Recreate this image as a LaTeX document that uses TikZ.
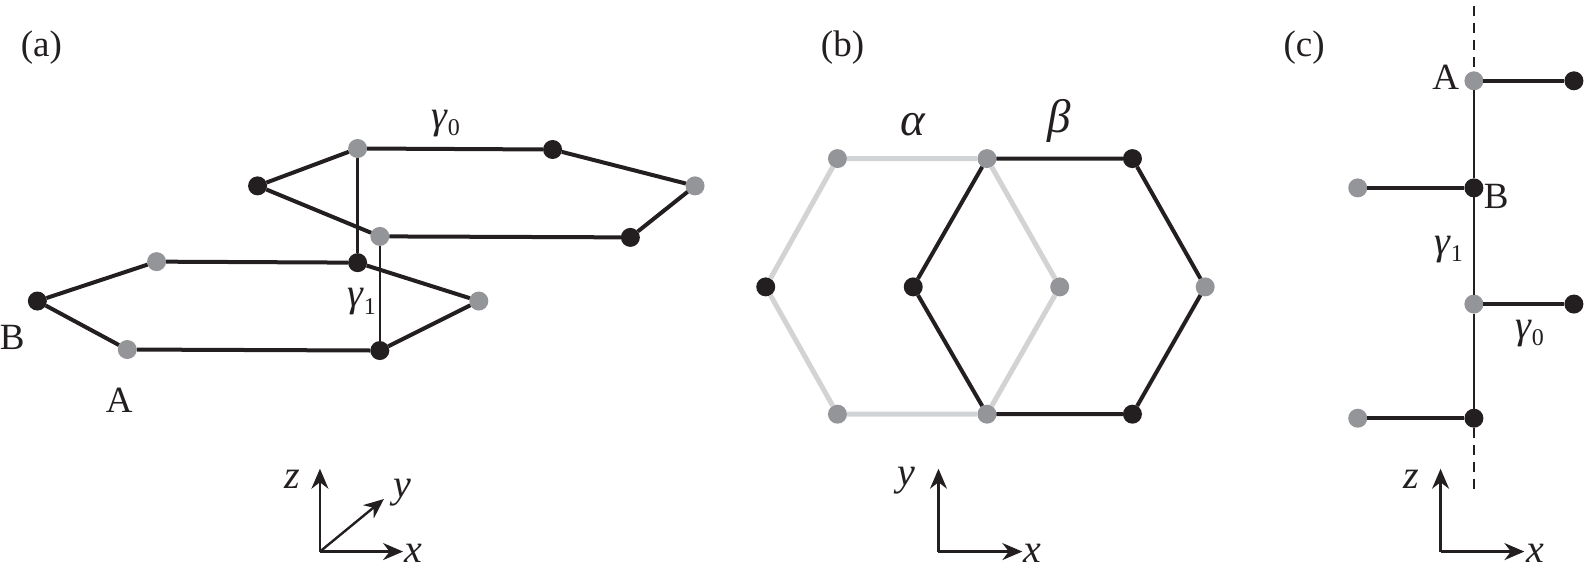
\documentclass[tikz,border=0pt]{standalone}
\usepackage{fontspec}
\setmainfont{Liberation Serif}
\usetikzlibrary{arrows.meta, positioning}
\definecolor{inkcolor}{RGB}{35,31,32}
\definecolor{sitecolor}{RGB}{147,149,152}
\definecolor{palecolor}{RGB}{209,211,212}
\newcommand{\gammasub}[1]{{\fontsize{40}{44}\selectfont\textit{γ}}\raisebox{-0.42ex}{\fontsize{24}{28}\selectfont #1}}

\begin{document}
\begin{tikzpicture}[
    x=1.0102pt,
    y=-1.0102pt,
    sitea/.style={circle, fill=sitecolor, inner sep=0pt, outer sep=0pt, minimum size=19pt},
    siteb/.style={circle, fill=inkcolor, inner sep=0pt, outer sep=0pt, minimum size=19pt},
    bond/.style={draw=inkcolor, line width=4pt},
    palebond/.style={draw=palecolor, line width=5pt},
    hop/.style={draw=inkcolor, line width=2.4pt},
    axis/.style={draw=inkcolor, line width=2.4pt, -{Stealth[length=20pt, width=17pt]}},
    label/.style={font=\fontsize{37}{42}\selectfont, text=inkcolor, inner sep=0pt},
    axislabel/.style={font=\fontsize{40}{44}\selectfont\itshape, text=inkcolor, inner sep=0pt}
]
    \useasboundingbox (0,0) rectangle (1568,566.2);

    % Panel labels
    \node[label] (laba) at (41,47) {(a)};
    \node[label] (labb) at (834,47) {(b)};
    \node[label] (labc) at (1291,47) {(c)};

    % (a) upper layer
    \node[siteb] (ua) at (255,184) {};
    \node[sitea] (ub) at (354,147) {};
    \node[siteb] (uc) at (547,148) {};
    \node[sitea] (ud) at (688,184) {};
    \node[siteb] (ue) at (624,235) {};
    \node[sitea] (uf) at (376,234) {};

    % (a) lower layer
    \node[siteb] (la) at (37,298) {};
    \node[sitea] (lb) at (155,259) {};
    \node[siteb] (lc) at (354,260) {};
    \node[sitea] (ld) at (474,298) {};
    \node[siteb] (le) at (376,347) {};
    \node[sitea] (lf) at (126,346) {};

    \draw[bond] (ua) -- (ub) -- (uc) -- (ud) -- (ue) -- (uf) -- (ua);
    \draw[bond] (la) -- (lb) -- (lc) -- (ld) -- (le) -- (lf) -- (la);
    \draw[hop] (ub) -- (lc);
    \draw[hop] (uf) -- (le);

    \node[label] (gza) at (441,122) {\gammasub{0}};
    \node[label] (goa) at (358,299) {\gammasub{1}};
    \node[label] (siteBa) at (12,334) {B};
    \node[label] (siteAa) at (118,396) {A};

    % (b) two sublattices
    \node[siteb] (pa) at (758,284) {};
    \node[sitea] (pb) at (829,157) {};
    \node[sitea] (pc) at (977,157) {};
    \node[sitea] (pd) at (1049,284) {};
    \node[sitea] (pe) at (977,410) {};
    \node[sitea] (pf) at (829,410) {};
    \node[siteb] (qa) at (904,284) {};
    \node[siteb] (qc) at (1121,157) {};
    \node[sitea] (qd) at (1193,284) {};
    \node[siteb] (qe) at (1121,410) {};

    \draw[palebond] (pa) -- (pb) -- (pc) -- (pd) -- (pe) -- (pf) -- (pa);
    \draw[bond] (qa) -- (pc) -- (qc) -- (qd) -- (qe) -- (pe) -- (qa);

    \node[label, font=\fontsize{47}{50}\selectfont\itshape] (alpha) at (904,123) {α};
    \node[label, font=\fontsize{47}{50}\selectfont\itshape] (beta) at (1048,120) {β};

    % (c) side view
    \coordinate (top) at (1459,6);
    \coordinate (bottom) at (1459,490);
    \node[sitea] (sa) at (1459,80) {};
    \node[siteb] (sb) at (1459,186) {};
    \node[sitea] (sc) at (1459,301) {};
    \node[siteb] (sd) at (1459,414) {};
    \node[siteb] (ta) at (1558,80) {};
    \node[sitea] (tb) at (1344,186) {};
    \node[siteb] (tc) at (1558,301) {};
    \node[sitea] (td) at (1344,414) {};

    \draw[hop] (sa) -- (sb) -- (sc) -- (sd);
    \draw[hop, dashed, dash pattern=on 10pt off 7pt] (top) -- (sa);
    \draw[hop, dashed, dash pattern=on 10pt off 7pt] (sd) -- (bottom);
    \draw[bond] (sa) -- (ta);
    \draw[bond] (tb) -- (sb);
    \draw[bond] (sc) -- (tc);
    \draw[bond] (td) -- (sd);

    \node[label] (siteAc) at (1431,77) {A};
    \node[label] (siteBc) at (1481,194) {B};
    \node[label] (goc) at (1434,247) {\gammasub{1}};
    \node[label] (gzc) at (1514,330) {\gammasub{0}};

    % Axes
    \coordinate (oa) at (316.7,546);
    \coordinate (za) at (316.7,464);
    \coordinate (xa) at (399,546);
    \coordinate (ya) at (380,494);
    \draw[axis] (oa) -- (za);
    \draw[axis] (oa) -- (xa);
    \draw[axis] (oa) -- (ya);
    \node[axislabel] (lza) at (289,474) {z};
    \node[axislabel] (lya) at (398,488) {y};
    \node[axislabel] (lxa) at (409,548) {x};

    \coordinate (ob) at (929,546);
    \coordinate (yb) at (929,464);
    \coordinate (xb) at (1012,546);
    \draw[axis] (ob) -- (yb);
    \draw[axis] (ob) -- (xb);
    \node[axislabel] (lyb) at (897,476) {y};
    \node[axislabel] (lxb) at (1022,548) {x};

    \coordinate (oc) at (1426,546);
    \coordinate (zc) at (1426,464);
    \coordinate (xc) at (1509,546);
    \draw[axis] (oc) -- (zc);
    \draw[axis] (oc) -- (xc);
    \node[axislabel] (lzc) at (1397,474) {z};
    \node[axislabel] (lxc) at (1520,548) {x};
\end{tikzpicture}
\end{document}
